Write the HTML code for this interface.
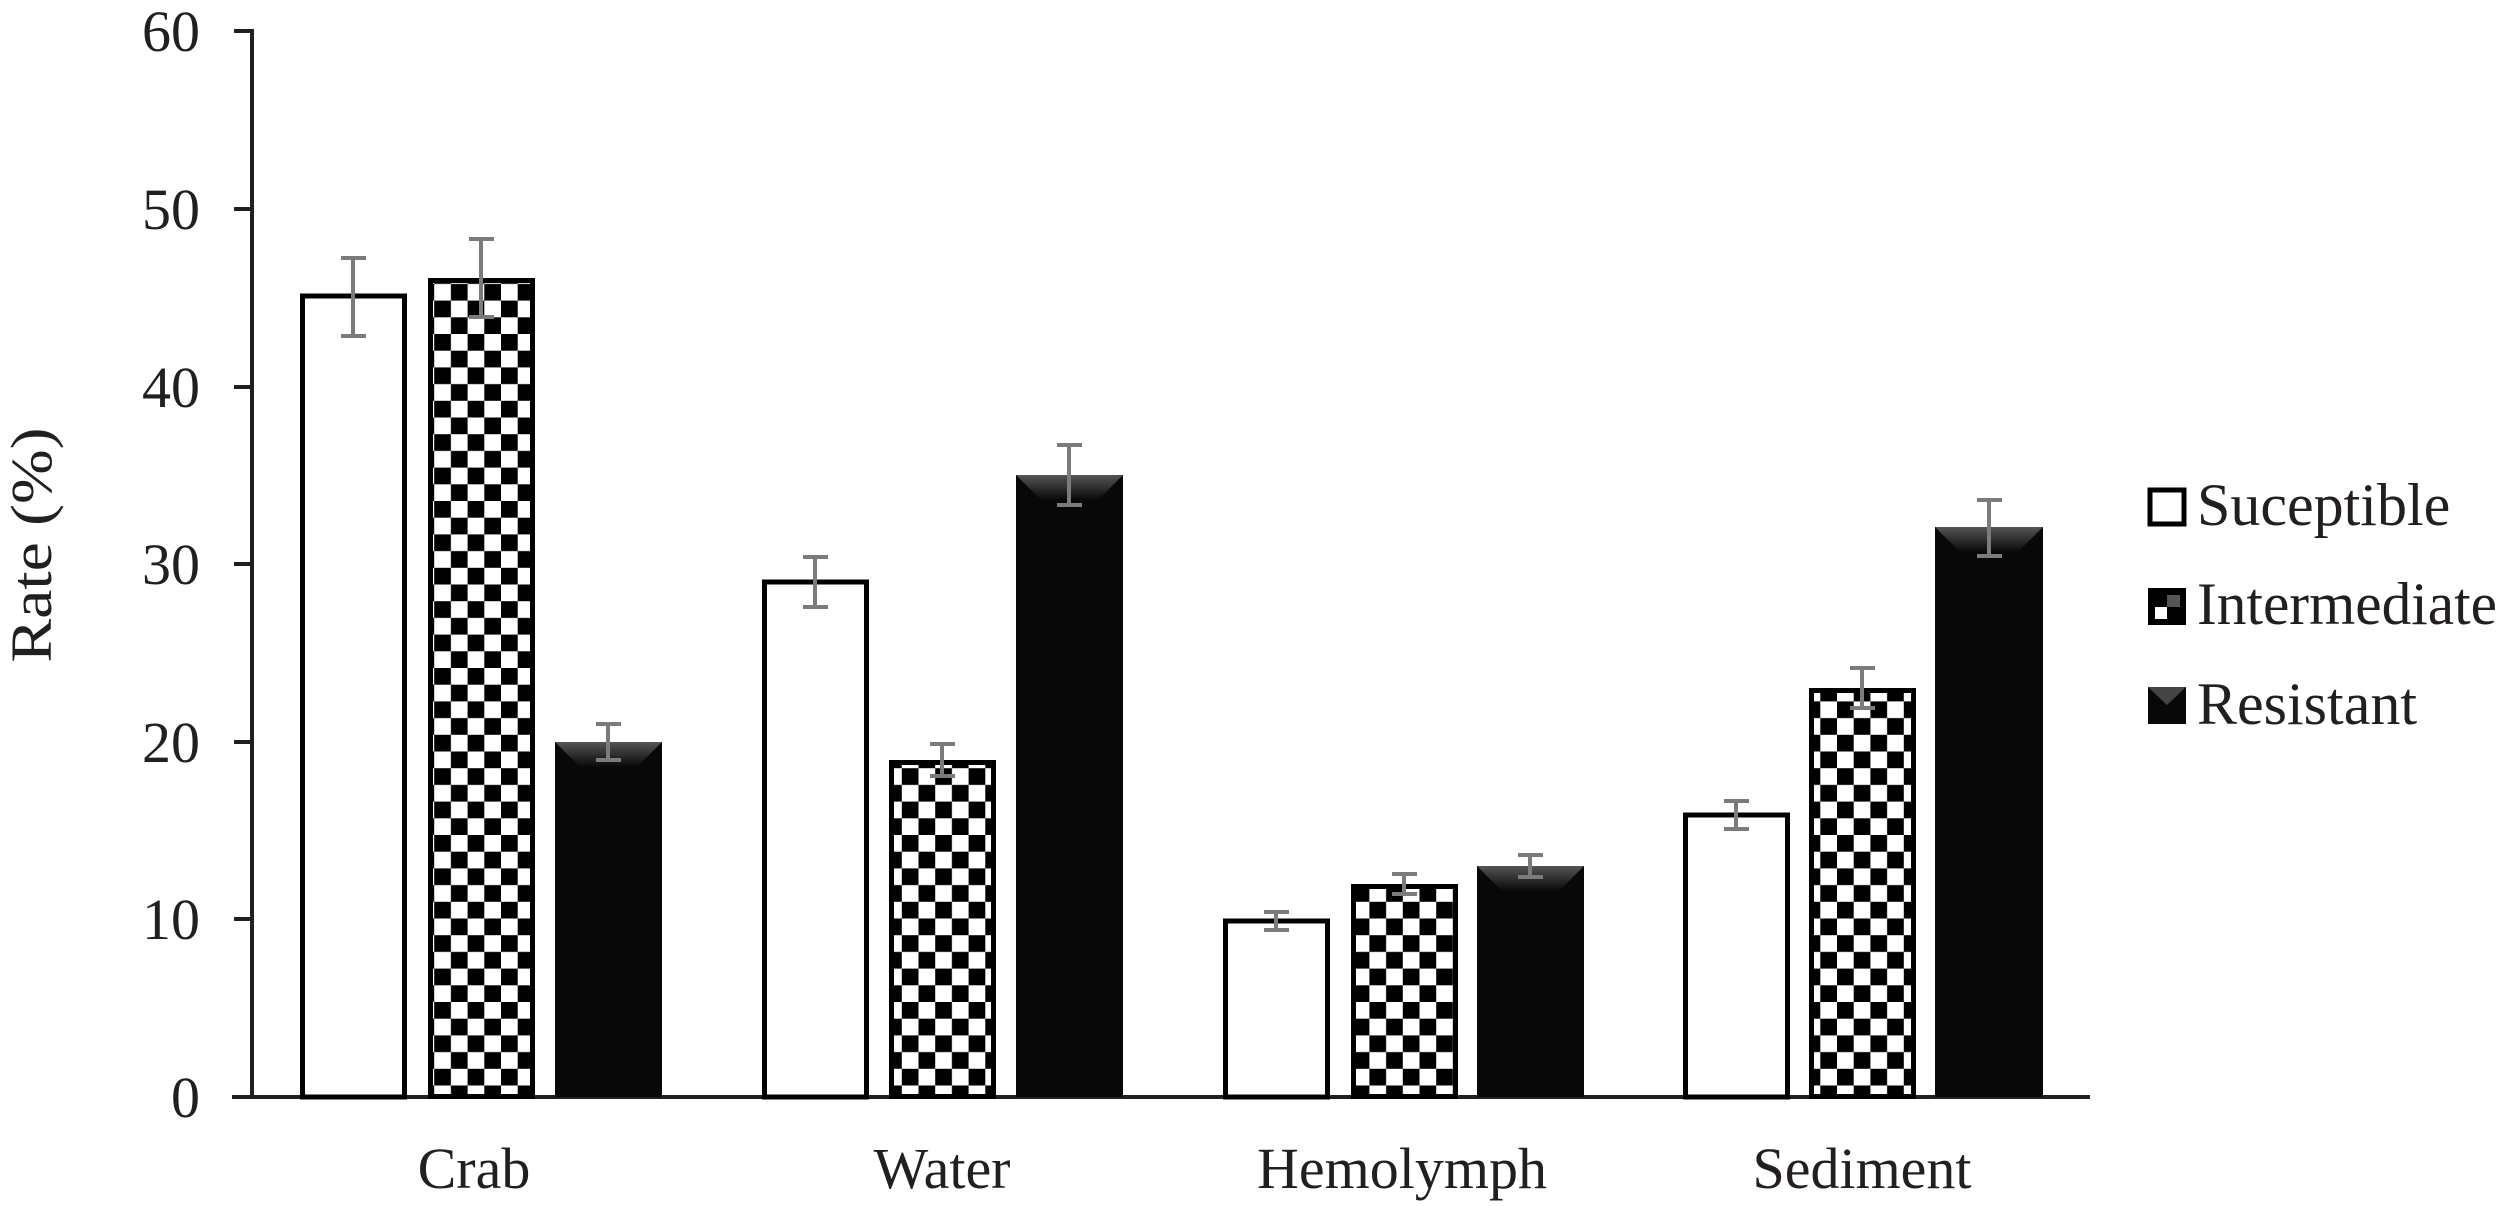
<!DOCTYPE html>
<html><head><meta charset="utf-8"><style>
html,body{margin:0;padding:0;background:#fff;}
svg{display:block;}
svg text{font-family:"Liberation Serif","Times New Roman",Times,serif;fill:#231f20;}
</style></head><body>
<svg width="2500" height="1206" viewBox="0 0 2500 1206" xmlns="http://www.w3.org/2000/svg" font-family="Liberation Serif, Times New Roman, serif">
<defs>
<pattern id="chk" patternUnits="userSpaceOnUse" width="33.4" height="33.4" x="0" y="0">
<rect width="33.4" height="33.4" fill="#fff"/>
<rect width="16.7" height="16.7" fill="#000"/>
<rect x="16.7" y="16.7" width="16.7" height="16.7" fill="#000"/>
</pattern>
<linearGradient id="bev" x1="0" y1="0" x2="0" y2="1">
<stop offset="0" stop-color="#555"/><stop offset="1" stop-color="#080808"/>
</linearGradient>
</defs>
<g stroke="#231f20" stroke-width="4">
<line x1="252" y1="29" x2="252" y2="1098"/>
<line x1="232" y1="1097" x2="2090" y2="1097"/>
<line x1="234" y1="31" x2="252" y2="31"/>
<line x1="234" y1="209" x2="252" y2="209"/>
<line x1="234" y1="387" x2="252" y2="387"/>
<line x1="234" y1="564" x2="252" y2="564"/>
<line x1="234" y1="742" x2="252" y2="742"/>
<line x1="234" y1="919" x2="252" y2="919"/>
</g>
<g font-size="58" text-anchor="end">
<text x="200" y="51">60</text>
<text x="200" y="229">50</text>
<text x="200" y="407">40</text>
<text x="200" y="584">30</text>
<text x="200" y="762">20</text>
<text x="200" y="939">10</text>
<text x="200" y="1117">0</text>
</g>
<text transform="translate(51,545) rotate(-90)" font-size="58" text-anchor="middle" textLength="235" lengthAdjust="spacingAndGlyphs">Rate (%)</text>
<g font-size="58" text-anchor="middle">
<text x="474" y="1188">Crab</text>
<text x="942" y="1188">Water</text>
<text x="1402" y="1188">Hemolymph</text>
<text x="1862" y="1188">Sediment</text>
</g>
<g>
<rect x="302.5" y="296" width="102" height="801" fill="#fff" stroke="#000" stroke-width="5"/>
<rect x="428" y="278" width="107" height="819" fill="url(#chk)"/>
<rect x="430.5" y="280.5" width="102" height="816" fill="none" stroke="#000" stroke-width="5"/>
<rect x="555" y="742" width="107" height="355" fill="#080808"/>
<polygon points="555,742 662,742 637,767 580,767" fill="url(#bev)"/>
<rect x="764.5" y="582" width="102" height="515" fill="#fff" stroke="#000" stroke-width="5"/>
<rect x="889" y="760" width="107" height="337" fill="url(#chk)"/>
<rect x="891.5" y="762.5" width="102" height="334" fill="none" stroke="#000" stroke-width="5"/>
<rect x="1016" y="475" width="107" height="622" fill="#080808"/>
<polygon points="1016,475 1123,475 1098,500 1041,500" fill="url(#bev)"/>
<rect x="1225.5" y="921" width="102" height="176" fill="#fff" stroke="#000" stroke-width="5"/>
<rect x="1351" y="884" width="107" height="213" fill="url(#chk)"/>
<rect x="1353.5" y="886.5" width="102" height="210" fill="none" stroke="#000" stroke-width="5"/>
<rect x="1477" y="866" width="107" height="231" fill="#080808"/>
<polygon points="1477,866 1584,866 1559,891 1502,891" fill="url(#bev)"/>
<rect x="1685.5" y="815" width="102" height="282" fill="#fff" stroke="#000" stroke-width="5"/>
<rect x="1809" y="688" width="107" height="409" fill="url(#chk)"/>
<rect x="1811.5" y="690.5" width="102" height="406" fill="none" stroke="#000" stroke-width="5"/>
<rect x="1935" y="527" width="108" height="570" fill="#080808"/>
<polygon points="1935,527 2043,527 2018,552 1960,552" fill="url(#bev)"/>
</g>
<g stroke="#7a7b7e" stroke-width="4" fill="none">
<path d="M353,258V336M341,258H366M341,336H366"/>
<path d="M481,239V317M469,239H494M469,317H494"/>
<path d="M608,724V760M596,724H621M596,760H621"/>
<path d="M815,557V607M803,557H828M803,607H828"/>
<path d="M942,744V776M930,744H955M930,776H955"/>
<path d="M1069,445V505M1057,445H1082M1057,505H1082"/>
<path d="M1276,912V930M1264,912H1289M1264,930H1289"/>
<path d="M1404,874V894M1392,874H1417M1392,894H1417"/>
<path d="M1530,855V877M1518,855H1543M1518,877H1543"/>
<path d="M1736,801V829M1724,801H1749M1724,829H1749"/>
<path d="M1862,668V708M1850,668H1875M1850,708H1875"/>
<path d="M1989,500V556M1977,500H2002M1977,556H2002"/>
</g>
<rect x="2150" y="490" width="34" height="34" fill="#fff" stroke="#000" stroke-width="5"/>
<rect x="2148" y="588" width="38" height="37" fill="#000"/>
<rect x="2167" y="595" width="13" height="12" fill="#555"/>
<rect x="2155" y="607" width="12" height="12" fill="#fff"/>
<rect x="2148" y="687" width="38" height="37" fill="#080808"/>
<polygon points="2148,687 2186,687 2167,705" fill="#444"/>
<g font-size="60">
<text x="2197" y="525">Suceptible</text>
<text x="2197" y="624" textLength="300" lengthAdjust="spacingAndGlyphs">Intermediate</text>
<text x="2197" y="724">Resistant</text>
</g>
</svg>
</body></html>
